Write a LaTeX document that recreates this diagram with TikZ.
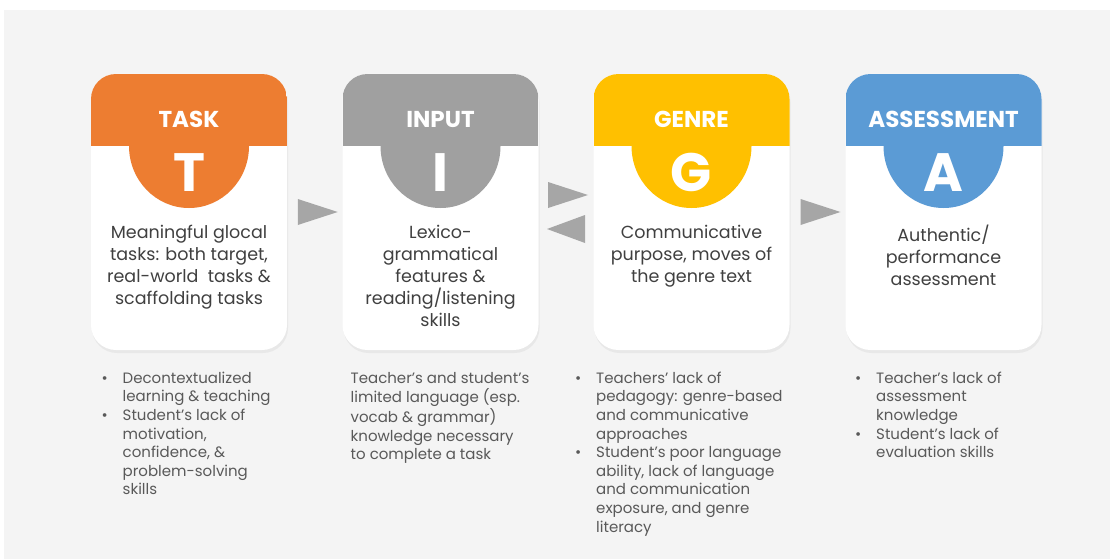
\documentclass[tikz,border=0pt]{standalone}
\usepackage{fontspec}
\setmainfont{Poppins}
\usetikzlibrary{calc,shadows}

\definecolor{taskorange}{HTML}{ED7D31}
\definecolor{inputgray}{HTML}{A0A0A0}
\definecolor{genreyellow}{HTML}{FFC000}
\definecolor{assessblue}{HTML}{5B9BD5}
\definecolor{panelgray}{HTML}{F4F4F4}
\definecolor{flowgray}{HTML}{A6A6A6}
\definecolor{inktext}{HTML}{404040}
\definecolor{notetext}{HTML}{595959}

\begin{document}
\begin{tikzpicture}[x=1pt, y=-1pt,
    card/.style={fill=white, rounded corners=25pt, inner sep=0pt,
        minimum width=196pt, minimum height=276pt,
        drop shadow={opacity=0.1, shadow xshift=1pt, shadow yshift=-3pt},
        path picture={
            \fill[#1, sharp corners] (path picture bounding box.north west) rectangle
                ($(path picture bounding box.north east)+(0,72)$);
            \fill[#1, sharp corners] ($(path picture bounding box.north)+(0,72)$)
                ellipse [x radius=60pt, y radius=62pt];
        }},
    head/.style={text=white, anchor=base, inner sep=0pt, font=\bfseries\fontsize{23}{23}\selectfont},
    letter/.style={text=white, anchor=base, inner sep=0pt, font=\bfseries\fontsize{54}{54}\selectfont},
    body/.style={text=inktext, anchor=north, align=center, inner sep=0pt, font=\fontsize{17.5}{22}\selectfont},
    note/.style={text=notetext, anchor=north west, inner sep=0pt, font=\fontsize{15}{18.6}\selectfont},
    flow/.style={fill=flowgray}]

    \useasboundingbox (0,0) rectangle (1110,559);
    \fill[panelgray] (4,10) rectangle (1110,559);

    % cards
    \node[card=taskorange] (task) at (189,212) {};
    \node[card=inputgray] (input) at (440.5,212) {};
    \node[card=genreyellow] (genre) at (691.5,212) {};
    \node[card=assessblue] (assess) at (943.5,212) {};

    \node[head] (taskhead) at (189,128) {TASK};
    \node[head] (inputhead) at (440.5,128) {INPUT};
    \node[head] (genrehead) at (691.5,128) {GENRE};
    \node[head] (assesshead) at (943.5,128) {ASSESSMENT};

    \node[letter] (taskletter) at (189,191) {T};
    \node[letter] (inputletter) at (440.5,191) {I};
    \node[letter] (genreletter) at (691.5,191) {G};
    \node[letter] (assessletter) at (943.5,191) {A};

    \node[body] (taskbody) at (189,225) {Meaningful glocal\\tasks: both target,\\real-world\ \ tasks \&\\scaffolding tasks};
    \node[body] (inputbody) at (440.5,225) {Lexico-\\grammatical\\features \&\\reading/listening\\skills};
    \node[body] (genrebody) at (691.5,225) {Communicative\\purpose, moves of\\the genre text};
    \node[body] (assessbody) at (943.5,225) {Authentic/\\performance\\assessment};

    % arrows between the cards
    \coordinate (ti) at ($(task.east)!0.5!(input.west)$);
    \coordinate (ig) at ($(input.east)!0.5!(genre.west)$);
    \coordinate (ga) at ($(genre.east)!0.5!(assess.west)$);
    \fill[flow] ($(ti)+(-17,-13)$) -- ($(ti)+(23,0)$) -- ($(ti)+(-17,13)$) -- cycle;
    \fill[flow] ($(ig)+(-18,-30)$) -- ($(ig)+(22,-17)$) -- ($(ig)+(-18,-4)$) -- cycle;
    \fill[flow] ($(ig)+(19,3)$) -- ($(ig)+(-19,17)$) -- ($(ig)+(19,31)$) -- cycle;
    \fill[flow] ($(ga)+(-17,-13)$) -- ($(ga)+(23,0)$) -- ($(ga)+(-17,13)$) -- cycle;

    % problems under each card
    \node[note] (tasknote) at (101.5,370) {\begin{tabular}{@{}p{21pt}@{}l@{}}
        • & Decontextualized\\
          & learning \& teaching\\
        • & Student’s lack of\\
          & motivation,\\
          & confidence, \&\\
          & problem-solving\\
          & skills
    \end{tabular}};
    \node[note] (inputnote) at (350.5,370) {\begin{tabular}{@{}l@{}}
        Teacher’s and student’s\\
        limited language (esp.\\
        vocab \& grammar)\\
        knowledge necessary\\
        to complete a task
    \end{tabular}};
    \node[note] (genrenote) at (575,370) {\begin{tabular}{@{}p{21pt}@{}l@{}}
        • & Teachers’ lack of\\
          & pedagogy: genre-based\\
          & and communicative\\
          & approaches\\
        • & Student’s poor language\\
          & ability, lack of language\\
          & and communication\\
          & exposure, and genre\\
          & literacy
    \end{tabular}};
    \node[note] (assessnote) at (855,370) {\begin{tabular}{@{}p{21pt}@{}l@{}}
        • & Teacher’s lack of\\
          & assessment\\
          & knowledge\\
        • & Student’s lack of\\
          & evaluation skills
    \end{tabular}};
\end{tikzpicture}
\end{document}
